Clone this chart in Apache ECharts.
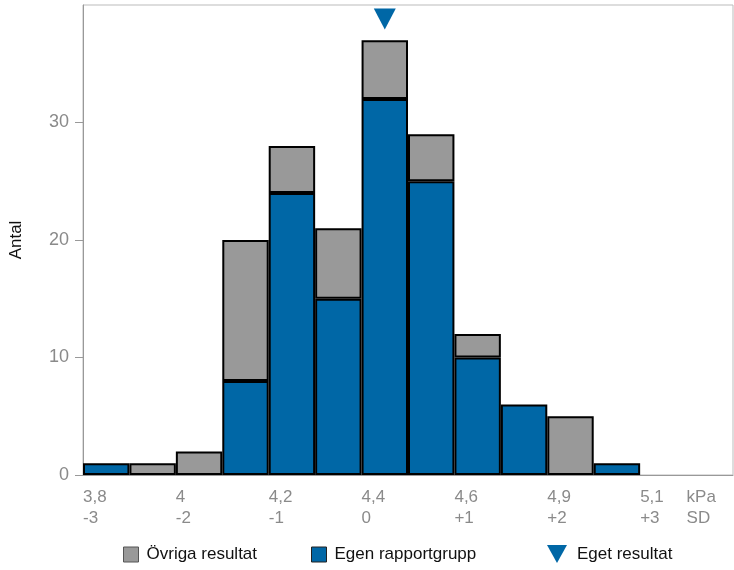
<!DOCTYPE html>
<html>
<head>
<meta charset="utf-8">
<style>html,body{margin:0;padding:0;background:#fff}#c{width:734px;height:570px}</style>
<script src="https://cdn.jsdelivr.net/npm/echarts@6/dist/echarts.min.js"></script>
</head>
<body>
<div id="c"></div>
<script>
// bins (14 bins, 12 used)
const bins = ['b1','b2','b3','b4','b5','b6','b7','b8','b9','b10','b11','b12','b13','b14'];
const egenRapportgrupp = [1,0,0,8,24,15,32,25,10,6,0,1,0,0];
const ovrigaResultat   = [0,1,2,12,4,6,5,4,2,0,5,0,0,0];
const egetResultatBin = 6;
const egetResultatY = 38.8;
// tick labels (at bin boundaries 0,2,4,...,12 and unit at 13)
const kpaLabels = ['3,8','4','4,2','4,4','4,6','4,9','5,1'];
const sdLabels  = ['-3','-2','-1','0','+1','+2','+3'];
const yTicks = [0,10,20,30];

const BLUE = '#0067a6', GRAY = '#999999';
const font = 'Liberation Sans, Arial, sans-serif';
const nz = a => a.map(v => v === 0 ? null : v);

const labelMap = {};
kpaLabels.forEach((k,i) => { labelMap[i*2] = k + '\n' + sdLabels[i]; });
labelMap[13] = 'kPa\nSD';

const tri = 'path://M0,0L10,0L5,9Z';
const legendBase = {bottom: 2, itemWidth: 15, itemHeight: 15, textStyle:{fontFamily:font,fontSize:17,color:'#111',padding:[0,0,0,3]}, itemGap: 10};

const chart = echarts.init(document.getElementById('c'));
chart.setOption({
  animation:false,
  textStyle:{fontFamily:font},
  grid:{left:83,right:1,top:5,bottom:95,show:true,borderColor:'#bbb',borderWidth:1,outerBoundsMode:'none',containLabel:false},
  legend:[
    Object.assign({}, legendBase, {left:118, data:[{name:'Övriga resultat', icon:'rect', itemStyle:{borderColor:'#555',borderWidth:1}}]}),
    Object.assign({}, legendBase, {left:306, data:[{name:'Egen rapportgrupp', icon:'rect', itemStyle:{borderColor:'#222',borderWidth:1}}]}),
    Object.assign({}, legendBase, {left:542, itemWidth:20, itemHeight:18, textStyle:{fontFamily:font,fontSize:17,color:'#111',padding:[0,0,0,5]},
      data:[{name:'Eget resultat', icon:tri, itemStyle:{borderWidth:0}}]})
  ],
  xAxis:[
    {type:'category', data:bins, boundaryGap:true,
     axisLine:{lineStyle:{color:'#999'}}, axisTick:{length:8, lineStyle:{color:'#999'}, interval:0},
     axisLabel:{show:false}},
    {type:'value', min:0, max:14, position:'bottom',
     axisLine:{show:false}, axisTick:{show:false}, splitLine:{show:false},
     axisLabel:{customValues:[0,2,4,6,8,10,12,13], align:'left', margin:12, color:'#8a8a8a', fontSize:17, lineHeight:21,
       formatter: v => labelMap[v] || ''}}
  ],
  yAxis:{type:'value', min:0, max:40,
    name:'Antal', nameLocation:'middle', nameRotate:90, nameGap:58, nameTextStyle:{color:'#111',fontSize:17,fontFamily:font},
    axisLine:{show:true,lineStyle:{color:'#999'}}, axisTick:{show:true,length:8,lineStyle:{color:'#999'},customValues:yTicks},
    axisLabel:{customValues:yTicks, color:'#8a8a8a', fontSize:18, margin:14},
    splitLine:{show:false}},
  series:[
    {name:'Egen rapportgrupp', type:'bar', stack:'s', data:nz(egenRapportgrupp), barCategoryGap:'0%',
     itemStyle:{color:BLUE, borderColor:'#000', borderWidth:2}},
    {name:'Övriga resultat', type:'bar', stack:'s', data:nz(ovrigaResultat), barCategoryGap:'0%',
     itemStyle:{color:GRAY, borderColor:'#000', borderWidth:2}},
    {name:'Eget resultat', type:'scatter', symbol:tri, symbolSize:[22,21],
     data:[[egetResultatBin, egetResultatY]], itemStyle:{color:BLUE, opacity:1}}
  ]
});
</script>
</body>
</html>
